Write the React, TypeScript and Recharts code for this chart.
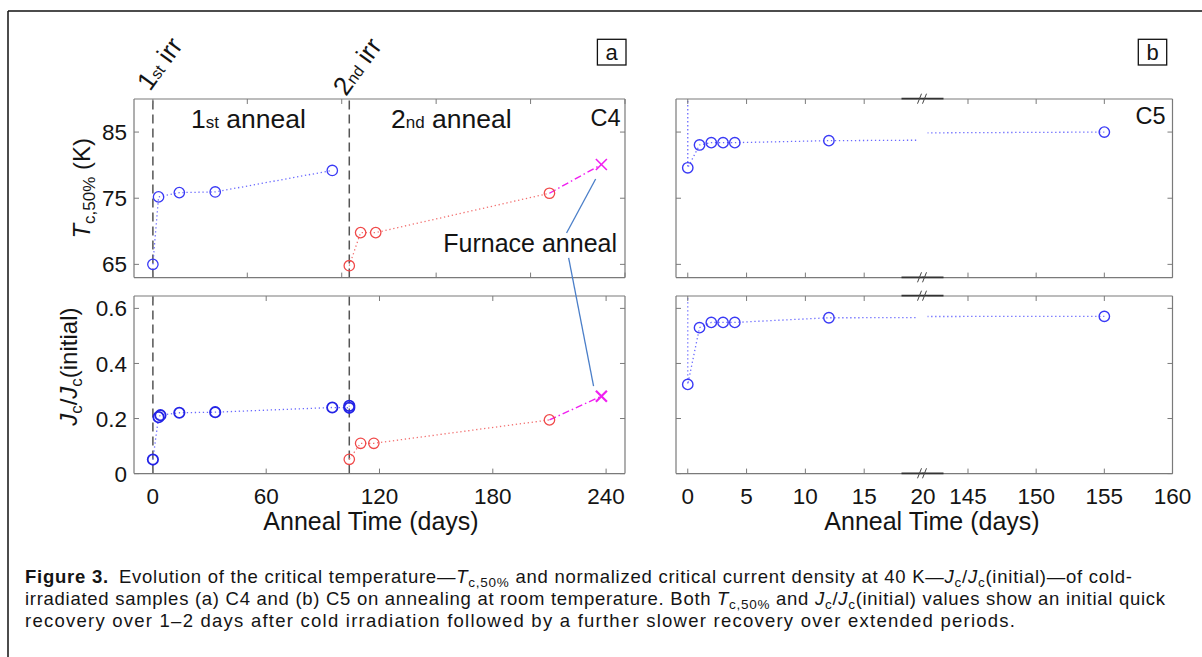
import React from 'react';
import { LineChart, Line, XAxis, YAxis, ReferenceLine } from 'recharts';

const FONT = '"Liberation Sans", Arial, Helvetica, sans-serif';
const AXIS = '#7a7a7a';
const TXT = '#141414';

// ---------------- data ----------------
const c4IrrDays = [0, 104];
const c4TcBlueDays = [0, 3, 14, 33, 95];
const c4TcBlue = [65.0, 75.2, 75.85, 75.95, 79.2];
const c4TcRedDays = [104, 110, 118, 210];
const c4TcRed = [64.8, 69.8, 69.8, 75.75];
const c4FurnaceDays = [210, 237.5];
const c4TcFurnace = [75.75, 80.1];
const c4JcBlueDays = [0, 3, 4, 14, 33, 95, 104, 104];
const c4JcBlue = [0.051, 0.205, 0.212, 0.221, 0.223, 0.24, 0.239, 0.246];
const c4JcRedDays = [104, 110, 117, 210];
const c4JcRed = [0.052, 0.11, 0.11, 0.195];
const c4JcFurnace = [0.195, 0.281];
const furnaceMarked = [false, true];

const c5Days = [0, 0, 1, 2, 3, 4, 12, 155];
const c5Tc = [91.5, 79.6, 83.05, 83.4, 83.4, 83.4, 83.7, 85.0];
const c5Jc = [1.0, 0.324, 0.53, 0.549, 0.549, 0.549, 0.566, 0.571];
const c5Marked = [false, true, true, true, true, true, true, true];

const tcTicks = [65, 75, 85];
const jcTicks = [0, 0.2, 0.4, 0.6];
const c4TimeTicks = [0, 60, 120, 180, 240];
const c4TimeTicksTop = [0, 50, 100, 150, 200, 250];
const c5EarlyTicks = [0, 5, 10, 15, 20];
const c5LateTicks = [145, 150, 155, 160];

const c4Dom: [number, number] = [-10, 250];
const tcDom: [number, number] = [63, 90];
const jcDom: [number, number] = [0, 0.645];
const c5EarlyDom: [number, number] = [-1, 20];
const c5LateDom: [number, number] = [141.7, 160];

// ---------------- layout ----------------
const LX0 = 134.3, LX1 = 625.3;
const RX0 = 675.5, RXB = 922.5, RX1 = 1172;
const TY0 = 98.7, TY1 = 277.3;
const BY0 = 295.7, BY1 = 473.3;

const BLUE = '#3a3af5';
const BLUE_L = '#6a6aff';
const RED = '#f04a4a';
const RED_L = '#f27070';
const MAG = '#f020f0';

const mk = (xs: number[], ys: number[], flags?: boolean[]) =>
  xs.map((x, i) => ({ x, y: ys[i], m: flags ? flags[i] : true }));

type Series = {
  data: { x: number; y: number; m: boolean }[];
  line: string;
  marker: string;
  dash: string;
  lw: number;
  shape: 'o' | 'x';
  r: number;
  mw: number;
};

const makeDot = (s: Series) => (p: any) => {
  const { cx, cy, index, payload } = p;
  if (cx == null || cy == null || !payload || !payload.m) return <g key={`d${index}`} />;
  if (s.shape === 'x') {
    const r = s.r;
    return (
      <g key={`d${index}`}>
        <line x1={cx - r} y1={cy - r} x2={cx + r} y2={cy + r} stroke={s.marker} strokeWidth={s.mw} />
        <line x1={cx - r} y1={cy + r} x2={cx + r} y2={cy - r} stroke={s.marker} strokeWidth={s.mw} />
      </g>
    );
  }
  return <circle key={`d${index}`} cx={cx} cy={cy} r={s.r} fill="none" stroke={s.marker} strokeWidth={s.mw} />;
};

type PanelProps = {
  x0: number; x1: number; y0: number; y1: number;
  xDomain: [number, number]; yDomain: [number, number];
  xTicks: number[]; xTicksTop: number[]; yTicks: number[];
  xLabels: boolean; yLabels: boolean;
  leftLine: boolean; rightLine: boolean; leftTicks: boolean; rightTicks: boolean;
  series: Series[]; refX?: number[];
};

const TL = 5;
const fmtY = (v: number) => (Number.isInteger(v) ? String(v) : v.toFixed(1));

function Panel(pp: PanelProps) {
  const PL = 70, PR = 34, PT = 12, PB = 42;
  const w = pp.x1 - pp.x0, h = pp.y1 - pp.y0;
  const W = w + PL + PR, H = h + PT + PB;
  const bottom = PT + h, right = PL + w;
  const bTick = (p: any) => (
    <g key={`b${p.index}`}>
      <line x1={p.x} x2={p.x} y1={bottom} y2={bottom - TL} stroke={AXIS} strokeWidth={1} />
      {pp.xLabels && (
        <text x={p.x} y={bottom + 30} textAnchor="middle" fontSize={22.5} fill={TXT} fontFamily={FONT}>
          {p.payload.value}
        </text>
      )}
    </g>
  );
  const tTick = (p: any) => (
    <line key={`t${p.index}`} x1={p.x} x2={p.x} y1={PT} y2={PT + TL} stroke={AXIS} strokeWidth={1} />
  );
  const lTick = (p: any) => (
    <g key={`l${p.index}`}>
      {pp.leftTicks && <line x1={PL} x2={PL + TL} y1={p.y} y2={p.y} stroke={AXIS} strokeWidth={1} />}
      {pp.yLabels && (
        <text x={PL - 7} y={p.y} dy="0.36em" textAnchor="end" fontSize={22.5} fill={TXT} fontFamily={FONT}>
          {fmtY(p.payload.value)}
        </text>
      )}
    </g>
  );
  const rTick = (p: any) =>
    pp.rightTicks ? (
      <line key={`r${p.index}`} x1={right} x2={right - TL} y1={p.y} y2={p.y} stroke={AXIS} strokeWidth={1} />
    ) : (
      <g key={`r${p.index}`} />
    );
  const axisLine = { stroke: AXIS, strokeWidth: 1.2 };
  return (
    <div style={{ position: 'absolute', left: pp.x0 - PL, top: pp.y0 - PT, width: W, height: H }}>
      <LineChart width={W} height={H} margin={{ top: 0, right: 0, bottom: 0, left: 0 }}>
        <XAxis xAxisId="b" orientation="bottom" type="number" dataKey="x" domain={pp.xDomain} ticks={pp.xTicks}
          allowDataOverflow interval={0} height={PB} axisLine={axisLine} tickLine={false} tick={bTick} />
        <XAxis xAxisId="t" orientation="top" type="number" dataKey="x" domain={pp.xDomain} ticks={pp.xTicksTop}
          allowDataOverflow interval={0} height={PT} axisLine={axisLine} tickLine={false} tick={tTick} />
        <YAxis yAxisId="l" orientation="left" type="number" dataKey="y" domain={pp.yDomain} ticks={pp.yTicks}
          allowDataOverflow interval={0} width={PL} axisLine={pp.leftLine ? axisLine : false} tickLine={false} tick={lTick} />
        <YAxis yAxisId="r" orientation="right" type="number" dataKey="y" domain={pp.yDomain} ticks={pp.yTicks}
          allowDataOverflow interval={0} width={PR} axisLine={pp.rightLine ? axisLine : false} tickLine={false} tick={rTick} />
        {(pp.refX || []).map((v) => (
          <ReferenceLine key={`ref${v}`} xAxisId="b" yAxisId="l" x={v} stroke="#555" strokeWidth={1.5} strokeDasharray="9 5" />
        ))}
        {pp.series.map((s, i) => (
          <Line key={`s${i}`} xAxisId="b" yAxisId="l" data={s.data} dataKey="y" type="linear"
            stroke={s.line} strokeWidth={s.lw} strokeDasharray={s.dash} dot={makeDot(s)} activeDot={false}
            isAnimationActive={false} />
        ))}
      </LineChart>
    </div>
  );
}

const DOT = '1.3 2.7';
const DASHDOT = '7 3 1.5 3';

const tcLeftSeries: Series[] = [
  { data: mk(c4TcBlueDays, c4TcBlue), line: BLUE_L, marker: BLUE, dash: DOT, lw: 1.3, shape: 'o', r: 5.2, mw: 1.3 },
  { data: mk(c4TcRedDays, c4TcRed), line: RED_L, marker: RED, dash: DOT, lw: 1.3, shape: 'o', r: 5.2, mw: 1.3 },
  { data: mk(c4FurnaceDays, c4TcFurnace, furnaceMarked), line: MAG, marker: MAG, dash: DASHDOT, lw: 1.4, shape: 'x', r: 5.5, mw: 1.6 },
];
const jcLeftSeries: Series[] = [
  { data: mk(c4JcBlueDays, c4JcBlue), line: BLUE_L, marker: '#2424e6', dash: DOT, lw: 1.3, shape: 'o', r: 5.2, mw: 1.8 },
  { data: mk(c4JcRedDays, c4JcRed), line: RED_L, marker: RED, dash: DOT, lw: 1.3, shape: 'o', r: 5.2, mw: 1.3 },
  { data: mk(c4FurnaceDays, c4JcFurnace, furnaceMarked), line: MAG, marker: MAG, dash: DASHDOT, lw: 1.4, shape: 'x', r: 5.5, mw: 2.2 },
];
const tcRightSeries: Series[] = [
  { data: mk(c5Days, c5Tc, c5Marked), line: BLUE_L, marker: BLUE, dash: DOT, lw: 1.3, shape: 'o', r: 5.2, mw: 1.4 },
];
const jcRightSeries: Series[] = [
  { data: mk(c5Days, c5Jc, c5Marked), line: BLUE_L, marker: BLUE, dash: DOT, lw: 1.3, shape: 'o', r: 5.2, mw: 1.4 },
];

// annotation (data units)
const arrowUpperTc = [[234.3, 77.86], [218.9, 69.7]];
const arrowLowerStartTc = [220.0, 65.92];
const arrowLowerEndJc = [233.2, 0.317];

const fx = (d: number) => LX0 + ((d - c4Dom[0]) / (c4Dom[1] - c4Dom[0])) * (LX1 - LX0);
const fyTc = (v: number) => TY0 + ((tcDom[1] - v) / (tcDom[1] - tcDom[0])) * (TY1 - TY0);
const fyJc = (v: number) => BY0 + ((jcDom[1] - v) / (jcDom[1] - jcDom[0])) * (BY1 - BY0);

type Seg = { t: string; b?: boolean; i?: boolean; sub?: boolean; dx?: number };

function Rich({ segs, subSize, shift }: { segs: Seg[]; subSize: number; shift: number }) {
  let shifted = false;
  return (
    <>
      {segs.map((s, k) => {
        let dy: number | undefined;
        if (s.sub && !shifted) { dy = shift; shifted = true; }
        else if (!s.sub && shifted) { dy = -shift; shifted = false; }
        return (
          <tspan key={k} dy={dy} dx={s.dx} fontSize={s.sub ? subSize : undefined}
            fontStyle={s.i ? 'italic' : undefined} fontWeight={s.b ? 'bold' : undefined}>
            {s.t}
          </tspan>
        );
      })}
    </>
  );
}

const captionLines: Seg[][] = [
  [
    { t: 'Figure 3.', b: true },
    { t: 'Evolution of the critical temperature\u2014', dx: 10 },
    { t: 'T', i: true }, { t: 'c,50%', sub: true },
    { t: ' and normalized critical current density at 40 K\u2014' },
    { t: 'J', i: true }, { t: 'c', sub: true }, { t: '/' }, { t: 'J', i: true }, { t: 'c', sub: true },
    { t: '(initial)\u2014of cold-' },
  ],
  [
    { t: 'irradiated samples (a) C4 and (b) C5 on annealing at room temperature. Both ' },
    { t: 'T', i: true }, { t: 'c,50%', sub: true }, { t: ' and ' },
    { t: 'J', i: true }, { t: 'c', sub: true }, { t: '/' }, { t: 'J', i: true }, { t: 'c', sub: true },
    { t: '(initial) values show an initial quick' },
  ],
  [{ t: 'recovery over 1\u20132 days after cold irradiation followed by a further slower recovery over extended periods.' }],
];
const captionBase = [583, 605, 627];
const captionWidth = [1107, 1140, 990];

function BreakMarks({ y0, y1 }: { y0: number; y1: number }) {
  const cx = RXB;
  const slash = (y: number, k: string) => (
    <g key={k}>
      <line x1={RXB - 21} x2={RXB + 21} y1={y} y2={y} stroke="#333" strokeWidth={1.7} />
      <line x1={cx - 5} y1={y + 5} x2={cx - 1} y2={y - 5} stroke="#444" strokeWidth={1} />
      <line x1={cx} y1={y + 5} x2={cx + 4} y2={y - 5} stroke="#444" strokeWidth={1} />
    </g>
  );
  return (
    <g>
      <rect x={RXB - 5} y={y0 + 1} width={10} height={y1 - y0 - 2} fill="#fff" />
      {slash(y0, 'a')}
      {slash(y1, 'b')}
    </g>
  );
}

export default function App() {
  return (
    <div style={{ position: 'fixed', left: 0, top: 0, width: 1202, height: 657, background: '#fff', overflow: 'hidden', fontFamily: FONT }}>
      <Panel x0={LX0} x1={LX1} y0={TY0} y1={TY1} xDomain={c4Dom} yDomain={tcDom} xTicks={c4TimeTicksTop} xTicksTop={c4TimeTicksTop}
        yTicks={tcTicks} xLabels={false} yLabels leftLine rightLine leftTicks rightTicks series={tcLeftSeries} refX={c4IrrDays} />
      <Panel x0={LX0} x1={LX1} y0={BY0} y1={BY1} xDomain={c4Dom} yDomain={jcDom} xTicks={c4TimeTicks} xTicksTop={c4TimeTicks}
        yTicks={jcTicks} xLabels yLabels leftLine rightLine leftTicks rightTicks series={jcLeftSeries} refX={c4IrrDays} />
      <Panel x0={RX0} x1={RXB} y0={TY0} y1={TY1} xDomain={c5EarlyDom} yDomain={tcDom} xTicks={c5EarlyTicks} xTicksTop={c5EarlyTicks}
        yTicks={tcTicks} xLabels={false} yLabels={false} leftLine rightLine={false} leftTicks rightTicks={false} series={tcRightSeries} />
      <Panel x0={RXB} x1={RX1} y0={TY0} y1={TY1} xDomain={c5LateDom} yDomain={tcDom} xTicks={c5LateTicks} xTicksTop={c5LateTicks}
        yTicks={tcTicks} xLabels={false} yLabels={false} leftLine={false} rightLine leftTicks={false} rightTicks series={tcRightSeries} />
      <Panel x0={RX0} x1={RXB} y0={BY0} y1={BY1} xDomain={c5EarlyDom} yDomain={jcDom} xTicks={c5EarlyTicks} xTicksTop={c5EarlyTicks}
        yTicks={jcTicks} xLabels yLabels={false} leftLine rightLine={false} leftTicks rightTicks={false} series={jcRightSeries} />
      <Panel x0={RXB} x1={RX1} y0={BY0} y1={BY1} xDomain={c5LateDom} yDomain={jcDom} xTicks={c5LateTicks} xTicksTop={c5LateTicks}
        yTicks={jcTicks} xLabels yLabels={false} leftLine={false} rightLine leftTicks={false} rightTicks series={jcRightSeries} />

      <svg width={1202} height={657} style={{ position: 'absolute', left: 0, top: 0, pointerEvents: 'none' }} fontFamily={FONT}>
        {/* outer frame */}
        <line x1={8} y1={11} x2={1202} y2={11} stroke="#111" strokeWidth={1.5} />
        <line x1={8} y1={11} x2={8} y2={657} stroke="#111" strokeWidth={1.5} />

        {/* panel letters */}
        <rect x={597.4} y={39.3} width={28.6} height={25.7} fill="none" stroke="#111" strokeWidth={1.3} />
        <text x={611.7} y={59.5} textAnchor="middle" fontSize={22} fill={TXT}>a</text>
        <rect x={1138.3} y={39.3} width={28.4} height={25.7} fill="none" stroke="#111" strokeWidth={1.3} />
        <text x={1152.5} y={59.5} textAnchor="middle" fontSize={22} fill={TXT}>b</text>

        {/* irradiation labels */}
        <text transform="translate(150,92) rotate(-54)" fontSize={26} fill={TXT}>
          1<tspan fontSize={16}>st</tspan> irr
        </text>
        <text transform="translate(346,97) rotate(-54)" fontSize={26} fill={TXT}>
          2<tspan fontSize={16}>nd</tspan> irr
        </text>

        {/* in-panel labels */}
        <text x={191} y={128} fontSize={26.5} fill={TXT}>1<tspan fontSize={17}>st</tspan> anneal</text>
        <text x={391} y={128} fontSize={26.5} fill={TXT}>2<tspan fontSize={17}>nd</tspan> anneal</text>
        <text x={620.5} y={126} textAnchor="end" fontSize={23.5} fill={TXT}>C4</text>
        <text x={1165.5} y={124} textAnchor="end" fontSize={23.5} fill={TXT}>C5</text>
        <text x={617} y={252} textAnchor="end" fontSize={25} fill={TXT}>Furnace anneal</text>

        {/* furnace annotation lines */}
        <line x1={fx(arrowUpperTc[0][0])} y1={fyTc(arrowUpperTc[0][1])} x2={fx(arrowUpperTc[1][0])} y2={fyTc(arrowUpperTc[1][1])}
          stroke="#4a7ec8" strokeWidth={1.3} />
        <line x1={fx(arrowLowerStartTc[0])} y1={fyTc(arrowLowerStartTc[1])} x2={fx(arrowLowerEndJc[0])} y2={fyJc(arrowLowerEndJc[1])}
          stroke="#4a7ec8" strokeWidth={1.3} />

        {/* axis break marks */}
        <BreakMarks y0={TY0} y1={TY1} />
        <BreakMarks y0={BY0} y1={BY1} />

        {/* axis titles */}
        <text transform="translate(90,188.3) rotate(-90)" textAnchor="middle" fontSize={24} fill={TXT}>
          <Rich segs={[{ t: 'T', i: true }, { t: 'c,50%', sub: true }, { t: ' (K)' }]} subSize={17} shift={5} />
        </text>
        <text transform="translate(76.5,366.7) rotate(-90)" textAnchor="middle" fontSize={24} fill={TXT}>
          <Rich segs={[{ t: 'J', i: true }, { t: 'c', sub: true }, { t: '/' }, { t: 'J', i: true }, { t: 'c', sub: true }, { t: '(initial)' }]} subSize={17} shift={5} />
        </text>
        <text x={371} y={530} textAnchor="middle" fontSize={25} fill={TXT}>Anneal Time (days)</text>
        <text x={932} y={530} textAnchor="middle" fontSize={25} fill={TXT}>Anneal Time (days)</text>

        {/* caption */}
        {captionLines.map((segs, k) => (
          <text key={k} x={25} y={captionBase[k]} fontSize={18.5} fill={TXT} textLength={captionWidth[k]} lengthAdjust="spacing">
            <Rich segs={segs} subSize={13.5} shift={3.5} />
          </text>
        ))}
      </svg>
    </div>
  );
}
